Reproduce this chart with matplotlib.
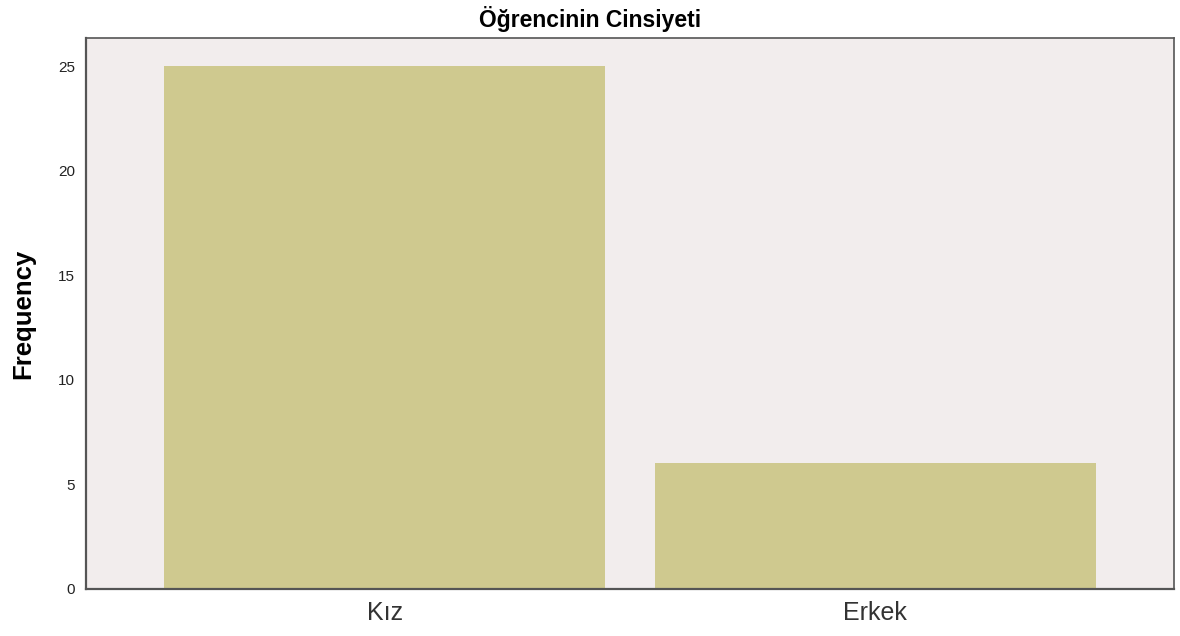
import matplotlib.pyplot as plt

# data
categories = ['Kız', 'Erkek']
counts = [25, 6]
yticks = [0, 5, 10, 15, 20, 25]

plt.rcParams['font.family'] = ['Arial', 'Liberation Sans', 'DejaVu Sans']

fig = plt.figure(figsize=(11.8, 6.36), dpi=100)
ax = fig.add_axes([86/1180, 1 - 589/636, (1174-86)/1180, (589-38)/636])
ax.set_facecolor('#F2EDED')

x = range(len(categories))
ax.bar(x, counts, width=0.9, color='#CFC98F', edgecolor='none')

ax.set_xlim(-0.61, 1.61)
ax.set_ylim(0, 26.34)
ax.set_xticks(list(x))
ax.set_xticklabels(categories, fontsize=18, color='#333333')
ax.set_yticks(yticks)
ax.set_yticklabels([str(t) for t in yticks], fontsize=11, color='#222222')
ax.tick_params(axis='both', length=0)
ax.tick_params(axis='y', pad=8)
ax.tick_params(axis='x', pad=9)

for s in ax.spines.values():
    s.set_color('#555555')
    s.set_linewidth(1.2)
ax.spines['left'].set_linewidth(1.6)
ax.spines['bottom'].set_linewidth(1.6)

ax.set_ylabel('Frequency', fontsize=18.5, fontweight='bold')
ax.yaxis.set_label_coords(-(86-35)/1088, 0.5)
fig.text(0.5, 1 - 19/636, 'Öğrencinin Cinsiyeti', ha='center', va='center',
         fontsize=16.5, fontweight='bold')

fig.savefig('out.png', dpi=100)
